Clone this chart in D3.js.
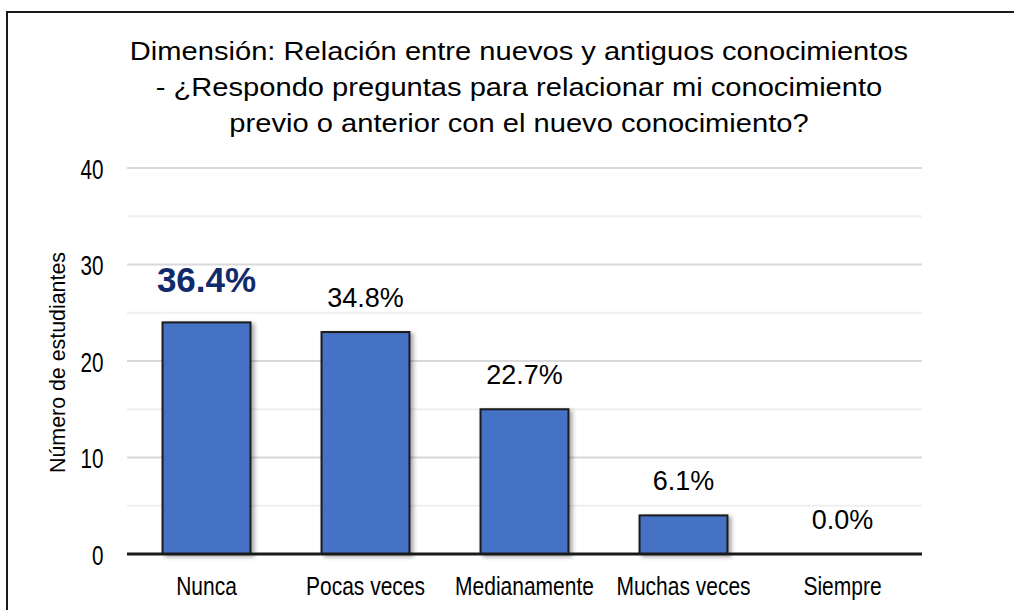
<!DOCTYPE html>
<html>
<head>
<meta charset="utf-8">
<script src="https://cdn.jsdelivr.net/npm/d3@7"></script>
<style>
  html, body { margin: 0; padding: 0; background: #fff; }
  svg { display: block; font-family: "Liberation Sans", Arial, sans-serif; }
</style>
</head>
<body>
<svg id="chart" width="1014" height="610"></svg>
<script>
// Response categories and number of students in each
const categories = ["Nunca", "Pocas veces", "Medianamente", "Muchas veces", "Siempre"];
const counts = [24, 23, 15, 4, 0];
const percentLabels = ["36.4%", "34.8%", "22.7%", "6.1%", "0.0%"];
const yTicks = [0, 10, 20, 30, 40];
const yGrid = [5, 10, 15, 20, 25, 30, 35, 40];
const titleLines = [
  "Dimensión: Relación entre nuevos y antiguos conocimientos",
  "- ¿Respondo preguntas para relacionar mi conocimiento",
  "previo o anterior con el nuevo conocimiento?"
];
const yTitle = "Número de estudiantes";

const svg = d3.select("#chart");
const plot = { left: 127, right: 922, top: 168, bottom: 554 };

// Drop shadow for the bars
const defs = svg.append("defs");
const f = defs.append("filter").attr("id", "shadow")
  .attr("x", "-20%").attr("y", "-20%").attr("width", "150%").attr("height", "150%");
f.append("feDropShadow").attr("dx", 3).attr("dy", 2).attr("stdDeviation", 2)
  .attr("flood-color", "#000").attr("flood-opacity", 0.35);

// Outer frame
svg.append("rect")
  .attr("x", 7).attr("y", 12).attr("width", 1020).attr("height", 620)
  .attr("fill", "none").attr("stroke", "#1a1a1a").attr("stroke-width", 2);

// Title (slightly widened lettering)
svg.append("g").selectAll("g").data(titleLines).join("g")
  .attr("transform", (d, i) => `translate(519,${59.5 + i * 36}) scale(1.12,1)`)
  .append("text")
  .attr("text-anchor", "middle")
  .attr("font-size", 26).attr("fill", "#000")
  .text(d => d);

const x = d3.scaleBand().domain(categories)
  .range([plot.left, plot.right])
  .paddingInner(0.447).paddingOuter(0.2235);
const y = d3.scaleLinear().domain([0, 40]).range([plot.bottom, plot.top]);

// Gridlines (major every 10, minor every 5)
svg.append("g").selectAll("line").data(yGrid).join("line")
  .attr("x1", plot.left).attr("x2", plot.right)
  .attr("y1", d => y(d)).attr("y2", d => y(d))
  .attr("stroke", d => d % 10 === 0 ? "#d9d9d9" : "#efefef")
  .attr("stroke-width", 2);

// Y axis tick labels (condensed)
const yAxis = d3.axisLeft(y).tickValues(yTicks).tickSize(0).tickPadding(0);
const gy = svg.append("g").attr("transform", "translate(103.5,0)").call(yAxis);
gy.select(".domain").remove();
gy.selectAll("text").attr("font-size", 28).attr("fill", "#000").attr("dy", "0.36em")
  .attr("font-family", "'Liberation Sans', Arial, sans-serif")
  .attr("transform", "scale(0.74,1)");

// Y axis title
svg.append("text")
  .attr("transform", `translate(65,${362.5}) rotate(-90) scale(0.93,1)`)
  .attr("text-anchor", "middle")
  .attr("font-size", 23).attr("fill", "#000")
  .text(yTitle);

// Bars
svg.append("g").selectAll("rect").data(counts).join("rect")
  .attr("x", (d, i) => x(categories[i]))
  .attr("y", d => y(d))
  .attr("width", x.bandwidth())
  .attr("height", d => y(0) - y(d))
  .attr("fill", "#4472c4")
  .attr("stroke", "#1a1a1a").attr("stroke-width", 2)
  .attr("filter", "url(#shadow)")
  .style("display", d => d > 0 ? null : "none");

// Baseline
svg.append("line")
  .attr("x1", plot.left).attr("x2", plot.right)
  .attr("y1", y(0)).attr("y2", y(0))
  .attr("stroke", "#1a1a1a").attr("stroke-width", 3);

// X axis labels (condensed)
const xAxis = d3.axisBottom(x).tickSize(0).tickPadding(0);
const gx = svg.append("g").attr("transform", `translate(0,${y(0) + 41})`).call(xAxis);
gx.select(".domain").remove();
gx.selectAll("text").attr("font-size", 25).attr("fill", "#000").attr("dy", 0)
  .attr("font-family", "'Liberation Sans', Arial, sans-serif")
  .attr("transform", "scale(0.84,1)");

// Percentage labels above bars (the highest one emphasised)
svg.append("g").selectAll("text").data(counts).join("text")
  .attr("x", (d, i) => x(categories[i]) + x.bandwidth() / 2)
  .attr("y", (d, i) => y(d) - (i === 0 ? 30.5 : 25))
  .attr("text-anchor", "middle")
  .attr("font-size", (d, i) => i === 0 ? 35 : 27)
  .attr("font-weight", (d, i) => i === 0 ? "bold" : "normal")
  .attr("fill", (d, i) => i === 0 ? "#102a6b" : "#000")
  .text((d, i) => percentLabels[i]);
</script>
</body>
</html>
